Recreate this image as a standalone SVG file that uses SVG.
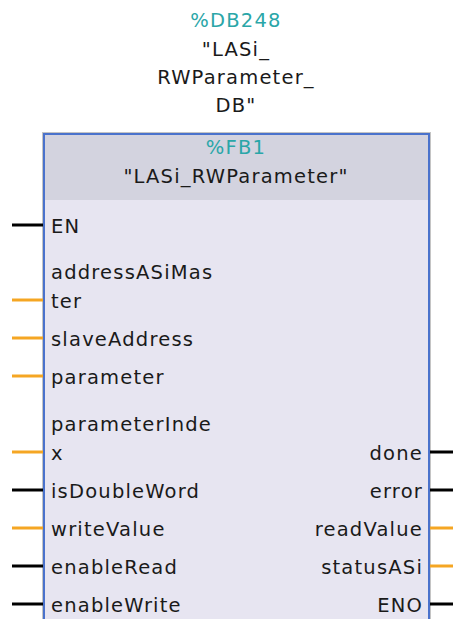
<svg xmlns="http://www.w3.org/2000/svg" width="453" height="619" viewBox="0 0 453 619">
<style>
text{font-family:"DejaVu Sans","Liberation Sans",sans-serif;font-size:19.5px;letter-spacing:1.2px;fill:#1a1a1a}
.t{fill:#2aa6a8}
.c{text-anchor:middle}
.r{text-anchor:end}
.wb{stroke:#000;stroke-width:3}
.wo{stroke:#f5a623;stroke-width:3}
.sl{stroke:url(#gl);stroke-width:2}
.sr{stroke:url(#gr);stroke-width:2}
</style>
<defs>
<linearGradient id="gl" x1="0" x2="1" y1="0" y2="0"><stop offset="0" stop-color="#fff" stop-opacity="1"/><stop offset="1" stop-color="#fff" stop-opacity="0"/></linearGradient>
<linearGradient id="gr" x1="0" x2="1" y1="0" y2="0"><stop offset="0" stop-color="#fff" stop-opacity="0"/><stop offset="1" stop-color="#fff" stop-opacity="1"/></linearGradient>
</defs>
<rect width="453" height="619" fill="#fff"/>
<g id="instance">
<text class="t c" x="236" y="27">%DB248</text>
<text class="c" x="236" y="56">"LASi_</text>
<text class="c" x="236" y="84">RWParameter_</text>
<text class="c" x="236" y="112">DB"</text>
</g>
<g id="block">
<rect x="42.5" y="132.5" width="388" height="500" fill="none" stroke="#888" stroke-width="1" stroke-dasharray="1 1"/>
<rect x="44" y="134" width="385" height="66" fill="#d3d3df"/>
<rect x="44" y="200" width="385" height="430" fill="#e7e5f1"/>
<rect x="44" y="134" width="385" height="500" fill="none" stroke="#4a72cc" stroke-width="2"/>
<text class="t c" x="236" y="154">%FB1</text>
<text class="c" x="236" y="183">"LASi_RWParameter"</text>
</g>
<g id="separators">
<line class="sl" x1="50" y1="243" x2="200" y2="243"/>
<line class="sl" x1="50" y1="319" x2="200" y2="319"/>
<line class="sl" x1="50" y1="357" x2="200" y2="357"/>
<line class="sl" x1="50" y1="395" x2="200" y2="395"/>
<line class="sl" x1="50" y1="472" x2="200" y2="472"/>
<line class="sl" x1="50" y1="509" x2="200" y2="509"/>
<line class="sl" x1="50" y1="547" x2="200" y2="547"/>
<line class="sl" x1="50" y1="585" x2="200" y2="585"/>
<line class="sr" x1="300" y1="472" x2="422" y2="472"/>
<line class="sr" x1="300" y1="509" x2="422" y2="509"/>
<line class="sr" x1="300" y1="547" x2="422" y2="547"/>
<line class="sr" x1="300" y1="585" x2="422" y2="585"/>
</g>
<g id="connectors">
<line class="wb" x1="12" y1="225" x2="43" y2="225"/>
<line class="wo" x1="12" y1="300" x2="43" y2="300"/>
<line class="wo" x1="12" y1="338" x2="43" y2="338"/>
<line class="wo" x1="12" y1="376" x2="43" y2="376"/>
<line class="wo" x1="12" y1="452" x2="43" y2="452"/>
<line class="wb" x1="12" y1="490" x2="43" y2="490"/>
<line class="wo" x1="12" y1="528" x2="43" y2="528"/>
<line class="wb" x1="12" y1="566" x2="43" y2="566"/>
<line class="wb" x1="12" y1="604" x2="43" y2="604"/>
<line class="wb" x1="430" y1="452" x2="453" y2="452"/>
<line class="wb" x1="430" y1="490" x2="453" y2="490"/>
<line class="wo" x1="430" y1="528" x2="453" y2="528"/>
<line class="wo" x1="430" y1="566" x2="453" y2="566"/>
<line class="wb" x1="430" y1="604" x2="453" y2="604"/>
</g>
<g id="inputs">
<text x="51" y="233">EN</text>
<text x="51" y="279">addressASiMas</text>
<text x="51" y="308">ter</text>
<text x="51" y="346">slaveAddress</text>
<text x="51" y="384">parameter</text>
<text x="51" y="431">parameterInde</text>
<text x="51" y="460">x</text>
<text x="51" y="498">isDoubleWord</text>
<text x="51" y="536">writeValue</text>
<text x="51" y="574">enableRead</text>
<text x="51" y="612">enableWrite</text>
</g>
<g id="outputs">
<text class="r" x="423" y="460">done</text>
<text class="r" x="423" y="498">error</text>
<text class="r" x="423" y="536">readValue</text>
<text class="r" x="423" y="574">statusASi</text>
<text class="r" x="423" y="612">ENO</text>
</g>
</svg>
